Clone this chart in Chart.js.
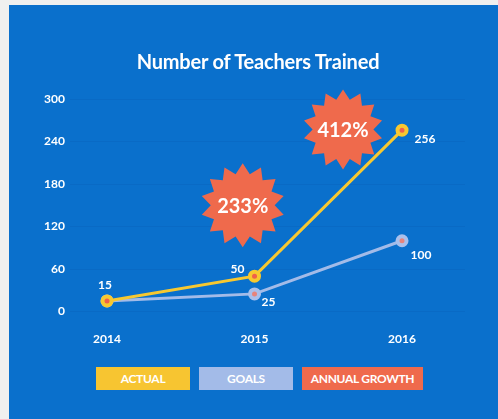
<!DOCTYPE html>
<html>
<head>
<meta charset="utf-8">
<script src="https://cdn.jsdelivr.net/npm/chart.js@4/dist/chart.umd.min.js"></script>
<style>
  html,body{margin:0;padding:0;background:#f0f0ef;width:498px;height:419px;overflow:hidden;font-family:Lato,"Open Sans",sans-serif;}
  #panel{position:absolute;left:9px;top:5px;width:489px;height:414px;background:#0a70cc;}
  #wrap{position:absolute;left:0;top:0;width:498px;height:419px;}
  #title{position:absolute;left:0;width:516px;top:49px;text-align:center;color:#fff;font-weight:bold;font-size:20px;letter-spacing:-0.2px;}
  .lg{position:absolute;top:367px;height:23px;line-height:23px;color:#fff;font-weight:bold;font-size:12px;text-align:center;letter-spacing:-0.3px;}
</style>
</head>
<body>
<div id="panel"></div>
<div id="wrap"><canvas id="c" width="498" height="419"></canvas></div>
<div id="title">Number of Teachers Trained</div>
<div class="lg" style="left:96px;width:94px;background:#f7c531;">ACTUAL</div>
<div class="lg" style="left:199px;width:94px;background:#a3bbe8;">GOALS</div>
<div class="lg" style="left:302px;width:121px;background:#ef6a4c;">ANNUAL GROWTH</div>
<script>
const years = ["2014", "2015", "2016"];
const actual = [15, 50, 256];
const goals = [15, 25, 100];
const yTicks = [0, 60, 120, 180, 240, 300];
const growthLabels = ["233%", "412%"];
const growthAnchors = [[0.92, 150], [1.60, 257]];

const labelOffsets = {
  0: [[-2, -16], [-17, -7], [23, 9]],
  1: [null, [14, 8], [19, 14]]
};

const starPlugin = {
  id: 'stars',
  afterDatasetsDraw(chart) {
    const ctx = chart.ctx, xs = chart.scales.x, ys = chart.scales.y;
    growthLabels.forEach((t, i) => {
      const cx = xs.getPixelForValue(growthAnchors[i][0]);
      const cy = ys.getPixelForValue(growthAnchors[i][1]);
      const R = i === 0 ? 42 : 40, r = R * 0.76, n = 14;
      ctx.save();
      ctx.beginPath();
      for (let k = 0; k < n * 2; k++) {
        const rad = k % 2 === 0 ? R : r;
        const a = -Math.PI / 2 + k * Math.PI / n;
        const px = cx + rad * Math.cos(a), py = cy + rad * Math.sin(a);
        if (k === 0) ctx.moveTo(px, py); else ctx.lineTo(px, py);
      }
      ctx.closePath();
      ctx.fillStyle = '#ef6a4c';
      ctx.fill();
      ctx.fillStyle = '#ffffff';
      ctx.font = 'bold 20px Lato, "Open Sans", sans-serif';
      ctx.textAlign = 'center';
      ctx.textBaseline = 'middle';
      ctx.fillText(t, cx, cy + 1);
      ctx.restore();
    });
  }
};

const valuePlugin = {
  id: 'values',
  afterDatasetsDraw(chart) {
    const ctx = chart.ctx;
    ctx.save();
    ctx.fillStyle = '#ffffff';
    ctx.font = 'bold 12px Lato, "Open Sans", sans-serif';
    ctx.textAlign = 'center';
    ctx.textBaseline = 'middle';
    chart.data.datasets.forEach((ds, di) => {
      const meta = chart.getDatasetMeta(di);
      meta.data.forEach((pt, j) => {
        const off = labelOffsets[di][j];
        if (!off) return;
        ctx.fillText(String(ds.data[j].y), pt.x + off[0], pt.y + off[1]);
      });
    });
    ctx.restore();
  }
};

new Chart(document.getElementById('c'), {
  type: 'line',
  data: {
    datasets: [
      {
        label: 'ACTUAL',
        data: actual.map((v, i) => ({x: i, y: v})),
        borderColor: '#f7c830',
        borderWidth: 3,
        pointRadius: 4.5,
        pointBorderWidth: 4,
        pointBorderColor: '#f7c830',
        pointBackgroundColor: '#f0604a',
        tension: 0
      },
      {
        label: 'GOALS',
        data: goals.map((v, i) => ({x: i, y: v})),
        borderColor: '#a3bbe8',
        borderWidth: 3,
        pointRadius: 4.5,
        pointBorderWidth: 4,
        pointBorderColor: '#a9c0ec',
        pointBackgroundColor: '#e8847c',
        tension: 0
      }
    ]
  },
  options: {
    responsive: false,
    animation: false,
    layout: {padding: {left: 10, right: 33, top: 99, bottom: 61}},
    plugins: {legend: {display: false}, tooltip: {enabled: false}, title: {display: false}},
    scales: {
      x: {
        type: 'linear',
        min: -0.251,
        max: 2.427,
        grid: {display: false},
        border: {display: false},
        afterBuildTicks(s) { s.ticks = years.map((y, i) => ({value: i})); },
        ticks: {
          color: '#ffffff',
          padding: 12,
          font: {family: 'Lato, "Open Sans", sans-serif', size: 12, weight: 'bold'},
          callback: (v) => years[v]
        }
      },
      y: {
        min: 0,
        max: 300,
        afterBuildTicks(s) { s.ticks = yTicks.map(v => ({value: v})); },
        afterFit(s) { s.width = 60; },
        grid: {color: 'rgba(0,20,80,0.06)', drawTicks: false, lineWidth: 1},
        border: {display: false},
        ticks: {
          color: '#ffffff',
          padding: 5,
          font: {family: 'Lato, "Open Sans", sans-serif', size: 12, weight: 'bold'}
        }
      }
    }
  },
  plugins: [starPlugin, valuePlugin]
});
</script>
</body>
</html>
